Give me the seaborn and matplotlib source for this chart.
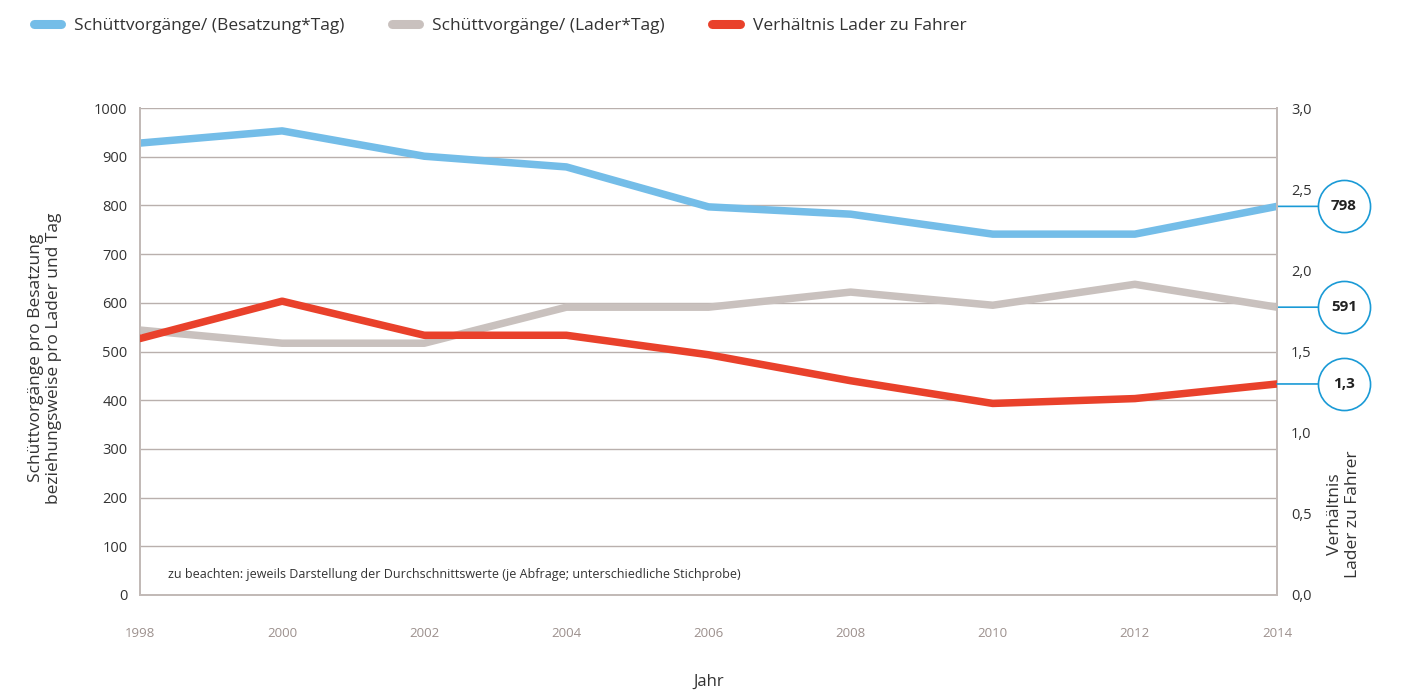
import matplotlib
matplotlib.use("Agg")
import matplotlib.pyplot as plt
import seaborn as sns
import pandas as pd
import numpy as np
from matplotlib.lines import Line2D

years = [1998, 2000, 2002, 2004, 2006, 2008, 2010, 2012, 2014]
besatzung = [928, 953, 901, 879, 797, 782, 741, 741, 798]
lader = [544, 517, 517, 591, 591, 622, 595, 638, 591]
verhaeltnis = [1.58, 1.81, 1.60, 1.60, 1.48, 1.32, 1.18, 1.21, 1.30]

series_names = ["Schüttvorgänge/ (Besatzung*Tag)", "Schüttvorgänge/ (Lader*Tag)", "Verhältnis Lader zu Fahrer"]
callout_labels = ["798", "591", "1,3"]
left_ticks = list(range(0, 1001, 100))
right_ticks = [0.0, 0.5, 1.0, 1.5, 2.0, 2.5, 3.0]

BLUE = "#74bde8"
GRAY = "#c9c1be"
RED = "#e9412b"
CIRC = "#1a9ad6"
GRID = "#b9b0ad"
SPINE = "#c2bab7"
TXT = "#333333"
XTXT = "#9c908d"

sns.set_theme(style="white")
plt.rcParams["font.family"] = ["Open Sans", "DejaVu Sans"]

fig = plt.figure(figsize=(14.05, 6.91), dpi=100)
ax = fig.add_axes([140 / 1405, 1 - 595 / 691, (1277 - 140) / 1405, (595 - 108) / 691])
ax2 = ax.twinx()

df = pd.DataFrame({"Jahr": years, "b": besatzung, "l": lader, "v": verhaeltnis})
lw = 5.4
sns.lineplot(data=df, x="Jahr", y="l", ax=ax, color=GRAY, lw=lw, solid_capstyle="round", zorder=3)
sns.lineplot(data=df, x="Jahr", y="b", ax=ax, color=BLUE, lw=lw, solid_capstyle="round", zorder=4)
sns.lineplot(data=df, x="Jahr", y="v", ax=ax2, color=RED, lw=lw, solid_capstyle="round", zorder=4)

ax.set_xlim(1998, 2014)
ax.set_ylim(0, 1000)
ax2.set_ylim(0, 3.0)
ax.set_yticks(left_ticks)
ax.set_yticklabels([str(t) for t in left_ticks], color=TXT, fontsize=10.5)
ax2.set_yticks(right_ticks)
ax2.set_yticklabels([f"{t:.1f}".replace(".", ",") for t in right_ticks], color=TXT, fontsize=10.5)
ax.set_xticks(years)
ax.set_xticklabels([str(y) for y in years], color=XTXT, fontsize=9.5)
ax.tick_params(axis="x", length=0, pad=23)
ax.tick_params(axis="y", length=0, pad=9)
ax2.tick_params(axis="y", length=0, pad=10)

ax.yaxis.grid(True, color=GRID, lw=1.0)
ax.set_axisbelow(True)
for a in (ax, ax2):
    a.spines["top"].set_visible(False)
    for s in ("left", "right", "bottom"):
        a.spines[s].set_color(SPINE)
        a.spines[s].set_linewidth(1.4)

ax.set_xlabel("Jahr", fontsize=12, color=TXT, labelpad=24.5)
ax.set_ylabel("Schüttvorgänge pro Besatzung\nbeziehungsweise pro Lader und Tag", fontsize=12.5, color=TXT,
              linespacing=1.15)
ax.yaxis.set_label_coords(-0.0686, 0.487)
ax2.set_ylabel("Verhältnis\nLader zu Fahrer", fontsize=12.5, color=TXT, linespacing=1.15)
ax2.yaxis.set_label_coords(1.044, 0.166)

ax.text(0.0246, 0.043, "zu beachten: jeweils Darstellung der Durchschnittswerte (je Abfrage; unterschiedliche Stichprobe)",
        transform=ax.transAxes, fontsize=9.0, color=TXT, va="center", ha="left")

# callouts
last_vals = [(ax, besatzung[-1]), (ax, lader[-1]), (ax2, verhaeltnis[-1])]
dx_px = 67
for (a, v), lab in zip(last_vals, callout_labels):
    a.annotate("", xy=(years[-1], v), xytext=(dx_px, 0), textcoords="offset pixels",
               arrowprops=dict(arrowstyle="-", color=CIRC, lw=1.2, shrinkA=0, shrinkB=0),
               annotation_clip=False, zorder=5)
    a.annotate(lab, xy=(years[-1], v), xytext=(dx_px, 0), textcoords="offset pixels",
               ha="center", va="center", fontsize=11, fontweight="bold", color="#222222",
               annotation_clip=False, zorder=7)
    a.plot([years[-1]], [v], marker="o", ms=37.5, mfc="white", mec=CIRC, mew=1.2, clip_on=False, zorder=6,
           transform=a.transData + matplotlib.transforms.ScaledTranslation(dx_px / 100, 0, fig.dpi_scale_trans))

handles = [Line2D([0], [0], color=c, lw=6.5, solid_capstyle="round") for c in (BLUE, GRAY, RED)]
fig.legend(handles, series_names, loc="upper left", bbox_to_anchor=(0.0128, 0.997), ncol=3, frameon=False,
           fontsize=12.5, handlelength=1.6, columnspacing=2.7, handletextpad=0.75, labelcolor=TXT)

fig.savefig("out.png", dpi=100)
